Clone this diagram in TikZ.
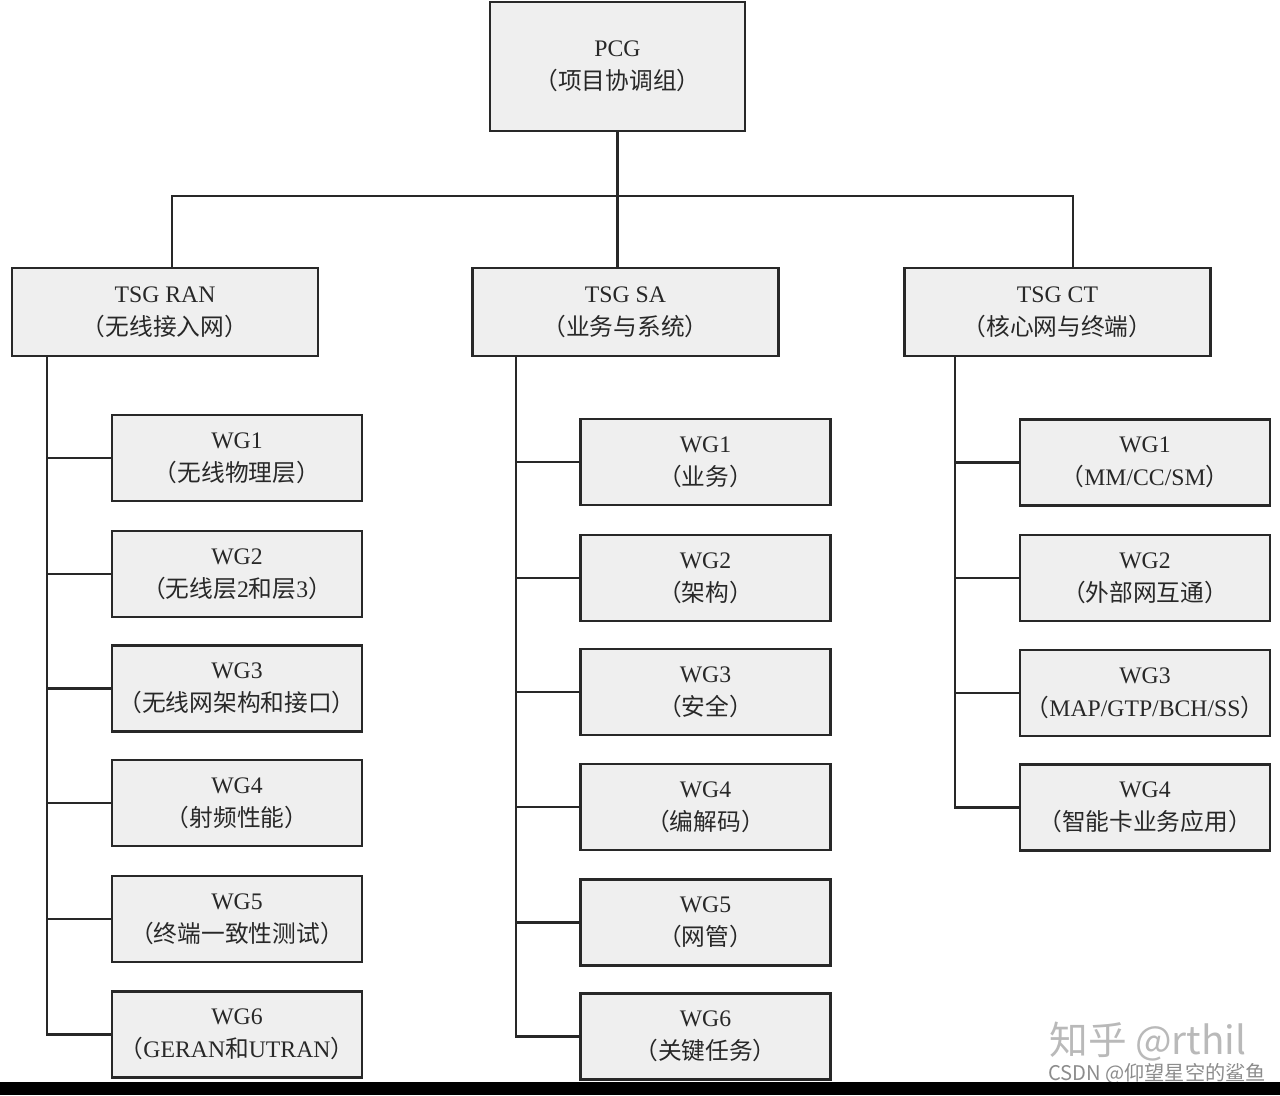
\documentclass[tikz,border=0pt]{standalone}
\usepackage{fontspec}
\setmainfont{Liberation Serif}
\newfontfamily\cjk{Noto Sans CJK SC}
\usetikzlibrary{positioning}
\definecolor{BoxFill}{RGB}{239,239,239}
\definecolor{LineGray}{RGB}{40,40,40}
\definecolor{MarkGray}{RGB}{185,185,185}
\definecolor{SignGray}{RGB}{140,140,140}
\newcommand{\zh}[1]{{\cjk #1}}
\tikzset{
  orgbox/.style={draw=LineGray,fill=BoxFill,line width=1.3pt,inner sep=0pt,
                 align=center,text=LineGray,font=\fontsize{13.5}{19}\selectfont},
  topbox/.style={orgbox,minimum width=5.1cm,minimum height=2.58cm},
  tsgbox/.style={orgbox,minimum width=6.12cm,minimum height=1.76cm},
  wgbox/.style={orgbox,minimum width=5.0cm,minimum height=1.72cm},
  link/.style={draw=LineGray,line width=1.2pt},
}

\begin{document}
\begin{tikzpicture}[x=0.02cm,y=-0.02cm]
\useasboundingbox (0,0) rectangle (1280,1095);

% top level
\node[topbox] (pcg) at (617.5,66.5) {PCG\\\zh{（项目协调组）}};
\coordinate (bus) at (617.5,196);

% TSGs
\node[tsgbox] (ran) at (165,312) {TSG RAN\\\zh{（无线接入网）}};
\node[tsgbox] (sa)  at (625.5,312) {TSG SA\\\zh{（业务与系统）}};
\node[tsgbox] (ct)  at (1057.5,312) {TSG CT\\\zh{（核心网与终端）}};

% RAN working groups
\node[wgbox] (ran1) at (237,458) {WG1\\\zh{（无线物理层）}};
\node[wgbox] (ran2) at (237,574) {WG2\\\zh{（无线层}2\zh{和层}3\zh{）}};
\node[wgbox] (ran3) at (237,688.5) {WG3\\\zh{（无线网架构和接口）}};
\node[wgbox] (ran4) at (237,803) {WG4\\\zh{（射频性能）}};
\node[wgbox] (ran5) at (237,919) {WG5\\\zh{（终端一致性测试）}};
\node[wgbox] (ran6) at (237,1034.5) {WG6\\\zh{（}GERAN\zh{和}UTRAN\zh{）}};

% SA working groups
\node[wgbox] (sa1) at (705.5,462) {WG1\\\zh{（业务）}};
\node[wgbox] (sa2) at (705.5,578) {WG2\\\zh{（架构）}};
\node[wgbox] (sa3) at (705.5,692) {WG3\\\zh{（安全）}};
\node[wgbox] (sa4) at (705.5,807) {WG4\\\zh{（编解码）}};
\node[wgbox] (sa5) at (705.5,922.5) {WG5\\\zh{（网管）}};
\node[wgbox] (sa6) at (705.5,1036.5) {WG6\\\zh{（关键任务）}};

% CT working groups
\node[wgbox] (ct1) at (1145,462.5) {WG1\\\zh{（}MM/CC/SM\zh{）}};
\node[wgbox] (ct2) at (1145,578) {WG2\\\zh{（外部网互通）}};
\node[wgbox] (ct3) at (1145,693) {WG3\\\zh{（}MAP/GTP/BCH/SS\zh{）}};
\node[wgbox] (ct4) at (1145,807.5) {WG4\\\zh{（智能卡业务应用）}};

% tree lines
\draw[link] (pcg) -- (bus);
\draw[link] (bus) -| ([xshift=0.14cm]ran.north);
\draw[link] (bus) -- (bus |- sa.north);
\draw[link] (bus) -| ([xshift=0.31cm]ct.north);

\coordinate (ranT) at (47,356);
\coordinate (saT) at (516,356);
\coordinate (ctT) at (955,356);
\draw[link] (ranT) |- (ran1.west);
\draw[link] (ranT) |- (ran2.west);
\draw[link] (ranT) |- (ran3.west);
\draw[link] (ranT) |- (ran4.west);
\draw[link] (ranT) |- (ran5.west);
\draw[link] (ranT) |- (ran6.west);
\draw[link] (saT) |- (sa1.west);
\draw[link] (saT) |- (sa2.west);
\draw[link] (saT) |- (sa3.west);
\draw[link] (saT) |- (sa4.west);
\draw[link] (saT) |- (sa5.west);
\draw[link] (saT) |- (sa6.west);
\draw[link] (ctT) |- (ct1.west);
\draw[link] (ctT) |- (ct2.west);
\draw[link] (ctT) |- (ct3.west);
\draw[link] (ctT) |- (ct4.west);

% watermarks and bottom bar
\node[text=MarkGray,font=\cjk\fontsize{22}{22}\selectfont] (mark) at (1148,1042) {知乎 @rthil};
\node[text=SignGray,font=\cjk\fontsize{11.5}{11.5}\selectfont] (sign) at (1157,1074) {CSDN @仰望星空的鲨鱼};
\fill[black] (0,1082) rectangle (1280,1095);
\end{tikzpicture}
\end{document}
